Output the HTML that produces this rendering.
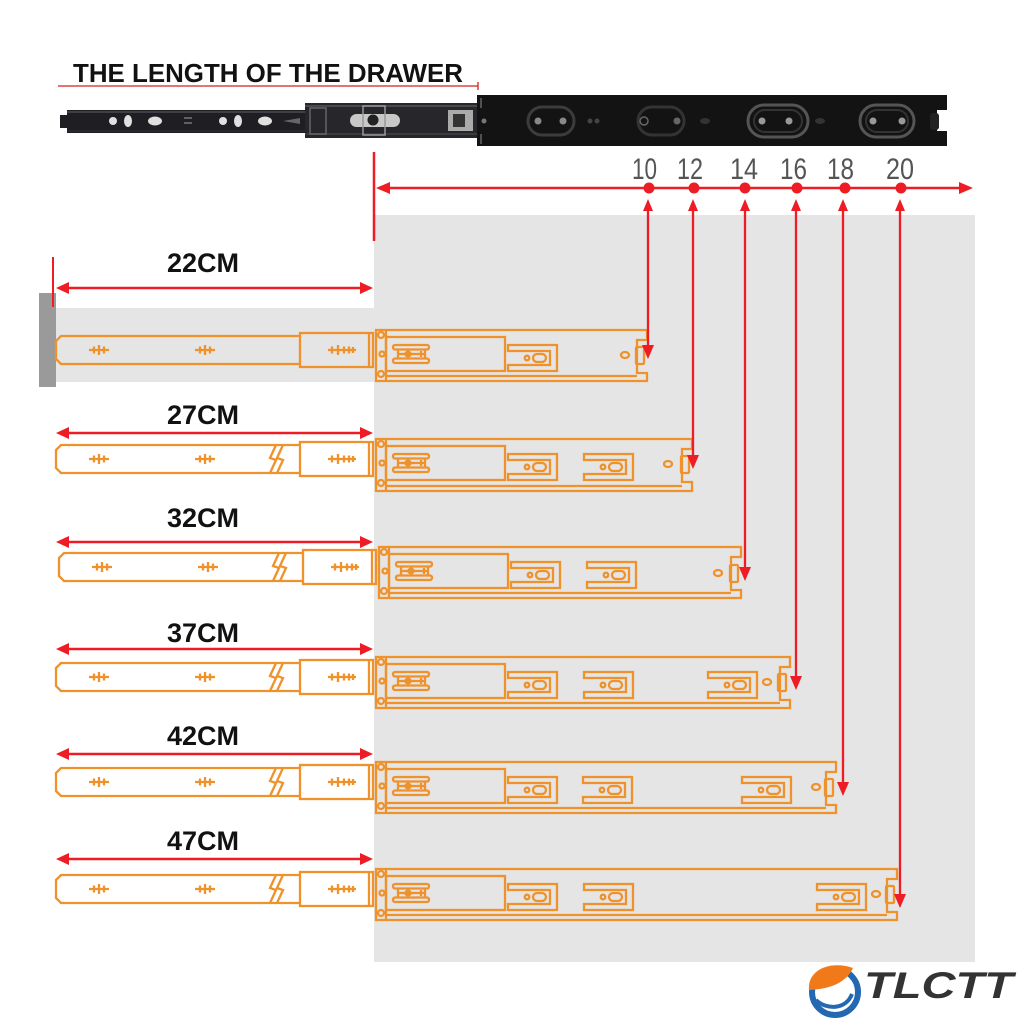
<!DOCTYPE html>
<html><head><meta charset="utf-8"><style>
html,body{margin:0;padding:0;background:#fff;}
svg{display:block;}
.o{fill:none;stroke:#f0922b;stroke-width:2.3;}
.t{font-family:"Liberation Sans",sans-serif;font-weight:bold;fill:#111;}
.n{font-family:"Liberation Sans",sans-serif;fill:#555;}
</style></head><body>
<svg width="1024" height="1024" viewBox="0 0 1024 1024" xmlns="http://www.w3.org/2000/svg">
<defs>
<g id="sym3"><path class="o" d="M-10,0 H10 M-5,-3.5 V3.5 M0,-5 V5 M5,-3.5 V3.5"/></g>
<g id="sym5"><path class="o" d="M-14,0 H14 M-10,-3.5 V3.5 M-4,-5 V5 M2,-3.5 V3.5 M7,-3.5 V3.5 M11,-3 V3"/></g>
<g id="slot"><path class="o" d="M0,0 H49 V26 H0 V20 H42 V6 H0 Z"/><circle class="o" cx="19" cy="13" r="2.3"/><rect class="o" x="25" y="9" width="13" height="8" rx="4"/></g>
<g id="plate"><rect class="o" x="393" y="15" width="36" height="4.5" rx="2"/><rect class="o" x="393" y="28.5" width="36" height="4.5" rx="2"/><path class="o" d="M398,19.5 V28.5 M425,19.5 V28.5 M398,24 H426 M421,21 V27"/><circle cx="408" cy="24" r="3.6" fill="#f0922b"/><path class="o" d="M408,19 V29 M403,24 H413"/></g>
<g id="left"><path class="o" d="M300,6 H61 L56,11 V29 L61,34 H300"/><use href="#sym3" x="99" y="20"/><use href="#sym3" x="205" y="20"/><rect class="o" x="300" y="3" width="73" height="34"/><line class="o" x1="369" y1="3" x2="369" y2="37"/><use href="#sym5" x="342" y="20"/></g>
<g id="brk"><path class="o" d="M276,6 L270,19 L276,21 L270,34 M283,6 L277,19 L283,21 L277,34"/></g>
<g id="oleft"><line class="o" x1="386" y1="0" x2="386" y2="51"/><rect class="o" x="378" y="2" width="6" height="6" rx="3"/><rect class="o" x="378" y="41" width="6" height="6" rx="3"/><circle class="o" cx="382" cy="24" r="2.5"/><rect class="o" x="386" y="7" width="119" height="34"/><use href="#plate"/><use href="#slot" x="508" y="15"/></g>
</defs>

<!-- gray backgrounds -->
<rect x="374" y="215" width="601" height="747" fill="#e5e5e5"/>
<rect x="56" y="308" width="318" height="74" fill="#e5e5e5"/>
<rect x="39" y="293" width="17" height="94" fill="#9a9a9a"/>

<!-- title -->
<text class="t" x="73" y="82" font-size="25.5" textLength="390" lengthAdjust="spacingAndGlyphs">THE LENGTH OF THE DRAWER</text>
<line x1="58" y1="86" x2="478" y2="86" stroke="#d42020" stroke-width="1.3"/>
<line x1="478" y1="82" x2="478" y2="90" stroke="#d42020" stroke-width="1.3"/>

<!-- black rail -->
<path d="M67,110 H307 V133 H67 V128 H60 V115 H67 Z" fill="#1e1e23"/>
<line x1="67" y1="112" x2="307" y2="112" stroke="#4a4a52" stroke-width="1.5"/>
<line x1="67" y1="131" x2="307" y2="131" stroke="#333" stroke-width="1"/>
<circle cx="113" cy="121" r="4" fill="#e0e0e0"/>
<ellipse cx="128" cy="121" rx="4" ry="6" fill="#e0e0e0"/>
<ellipse cx="155" cy="121" rx="7" ry="4.5" fill="#e0e0e0"/>
<path d="M184,118 H192 M184,123 H192" stroke="#777" stroke-width="1.5"/>
<circle cx="223" cy="121" r="4" fill="#e0e0e0"/>
<ellipse cx="238" cy="121" rx="4" ry="6" fill="#e0e0e0"/>
<ellipse cx="265" cy="121" rx="7" ry="4.5" fill="#e0e0e0"/>
<path d="M283,121 L300,118 V124 Z" fill="#666"/>
<rect x="305" y="103" width="173" height="35" fill="#26262b"/>
<line x1="305" y1="106" x2="478" y2="106" stroke="#555" stroke-width="1.5"/>
<line x1="305" y1="134" x2="478" y2="134" stroke="#444" stroke-width="1.5"/>
<rect x="310" y="108" width="16" height="26" fill="none" stroke="#666" stroke-width="1.5"/>
<rect x="350" y="114" width="50" height="13" rx="6.5" fill="#c8c8c8"/>
<rect x="363" y="106" width="22" height="29" fill="none" stroke="#999" stroke-width="1.5"/>
<circle cx="373" cy="120" r="5.5" fill="#222"/>
<rect x="448" y="110" width="25" height="21" fill="#aaa"/>
<rect x="453" y="114" width="12" height="13" fill="#333"/>
<path d="M477,95 H947 V110 H937 V131 H947 V146 H477 Z" fill="#131313"/>
<rect x="930" y="113" width="9" height="17" rx="3" fill="#222"/>
<path d="M481,98 V108 M481,134 V144" stroke="#666" stroke-width="1.5"/>
<circle cx="484" cy="121" r="2.5" fill="#777"/>
<rect x="528" y="107" width="46" height="28" rx="14" fill="none" stroke="#3c3c3c" stroke-width="3"/>
<circle cx="538" cy="121" r="3.5" fill="#888"/><circle cx="563" cy="121" r="3.5" fill="#888"/>
<circle cx="590" cy="121" r="2.5" fill="#444"/><circle cx="597" cy="121" r="2.5" fill="#444"/>
<rect x="638" y="107" width="46" height="28" rx="14" fill="none" stroke="#333" stroke-width="3"/>
<circle cx="644" cy="121" r="4" fill="none" stroke="#666" stroke-width="1.5"/><circle cx="677" cy="121" r="3.5" fill="#666"/>
<ellipse cx="705" cy="121" rx="5" ry="3" fill="#333"/>
<rect x="748" y="105" width="60" height="32" rx="16" fill="none" stroke="#555" stroke-width="3"/>
<rect x="754" y="110" width="48" height="22" rx="11" fill="none" stroke="#333" stroke-width="2"/>
<circle cx="762" cy="121" r="3.5" fill="#999"/><circle cx="789" cy="121" r="3.5" fill="#999"/>
<ellipse cx="820" cy="121" rx="5" ry="3" fill="#333"/>
<rect x="860" y="105" width="54" height="32" rx="16" fill="none" stroke="#555" stroke-width="3"/>
<rect x="866" y="110" width="42" height="22" rx="11" fill="none" stroke="#333" stroke-width="2"/>
<circle cx="873" cy="121" r="3.5" fill="#999"/><circle cx="902" cy="121" r="3.5" fill="#999"/>

<!-- top measuring arrow -->
<line x1="374" y1="152" x2="374" y2="241" stroke="#ee1c24" stroke-width="2.5"/>
<line x1="385" y1="188" x2="962" y2="188" stroke="#ee1c24" stroke-width="2.5"/>
<path d="M376,188 L390,182 L390,194 Z" fill="#ee1c24"/>
<path d="M973,188 L959,182 L959,194 Z" fill="#ee1c24"/>
<g class="n" font-size="30">
<text x="632" y="179" textLength="25" lengthAdjust="spacingAndGlyphs">10</text>
<text x="677" y="179" textLength="26" lengthAdjust="spacingAndGlyphs">12</text>
<text x="730" y="179" textLength="28" lengthAdjust="spacingAndGlyphs">14</text>
<text x="780" y="179" textLength="27" lengthAdjust="spacingAndGlyphs">16</text>
<text x="827" y="179" textLength="27" lengthAdjust="spacingAndGlyphs">18</text>
<text x="886" y="179" textLength="28" lengthAdjust="spacingAndGlyphs">20</text>
</g>

<!-- rows -->
<g transform="translate(0,330)">
<use href="#left"/><use href="#oleft"/>
<path class="o" stroke-width="2.6" d="M376,0 H647 V10 H637 V43 H647 V51 H376 Z"/>
<line class="o" x1="386" y1="46" x2="637" y2="46"/>
<ellipse class="o" cx="625" cy="25" rx="4" ry="3"/><rect class="o" x="636" y="17" width="8" height="17" rx="1"/>
</g>
<g transform="translate(0,439)">
<use href="#left"/><use href="#brk"/><use href="#oleft"/>
<use href="#slot" x="584" y="15"/>
<path class="o" stroke-width="2.6" d="M376,0 H692 V10 H682 V43 H692 V52 H376 Z"/>
<line class="o" x1="386" y1="47" x2="682" y2="47"/>
<ellipse class="o" cx="668" cy="25" rx="4" ry="3"/><rect class="o" x="681" y="17" width="8" height="17" rx="1"/>
</g>
<g transform="translate(3,547)">
<use href="#left"/><use href="#brk"/><use href="#oleft"/>
<use href="#slot" x="584" y="15"/>
<path class="o" stroke-width="2.6" d="M376,0 H738 V10 H728 V43 H738 V51 H376 Z"/>
<line class="o" x1="386" y1="46" x2="728" y2="46"/>
<ellipse class="o" cx="715" cy="26" rx="4" ry="3"/><rect class="o" x="727" y="18" width="8" height="17" rx="1"/>
</g>
<g transform="translate(0,657)">
<use href="#left"/><use href="#brk"/><use href="#oleft"/>
<use href="#slot" x="584" y="15"/><use href="#slot" x="708" y="15"/>
<path class="o" stroke-width="2.6" d="M376,0 H790 V10 H780 V43 H790 V51 H376 Z"/>
<line class="o" x1="386" y1="46" x2="780" y2="46"/>
<ellipse class="o" cx="767" cy="25" rx="4" ry="3"/><rect class="o" x="778" y="17" width="8" height="17" rx="1"/>
</g>
<g transform="translate(0,762)">
<use href="#left"/><use href="#brk"/><use href="#oleft"/>
<use href="#slot" x="583" y="15"/><use href="#slot" x="742" y="15"/>
<path class="o" stroke-width="2.6" d="M376,0 H836 V10 H826 V43 H836 V51 H376 Z"/>
<line class="o" x1="386" y1="46" x2="826" y2="46"/>
<ellipse class="o" cx="816" cy="25" rx="4" ry="3"/><rect class="o" x="825" y="17" width="8" height="17" rx="1"/>
</g>
<g transform="translate(0,869)">
<use href="#left"/><use href="#brk"/><use href="#oleft"/>
<use href="#slot" x="584" y="15"/><use href="#slot" x="817" y="15"/>
<path class="o" stroke-width="2.6" d="M376,0 H897 V10 H887 V43 H897 V51 H376 Z"/>
<line class="o" x1="386" y1="46" x2="887" y2="46"/>
<ellipse class="o" cx="876" cy="25" rx="4" ry="3"/><rect class="o" x="886" y="17" width="8" height="17" rx="1"/>
</g>

<!-- row labels & arrows -->
<g class="t" font-size="27" text-anchor="middle">
<text x="203" y="272">22CM</text>
<text x="203" y="424">27CM</text>
<text x="203" y="527">32CM</text>
<text x="203" y="642">37CM</text>
<text x="203" y="745">42CM</text>
<text x="203" y="850">47CM</text>
</g>
<line x1="53" y1="257" x2="53" y2="307" stroke="#ee1c24" stroke-width="2"/>
<g stroke="#ee1c24" stroke-width="2.5" fill="#ee1c24">
<line x1="66" y1="288" x2="362" y2="288"/><path stroke="none" d="M56,288 L69,282 L69,294 Z M373,288 L360,282 L360,294 Z"/>
<line x1="66" y1="433" x2="362" y2="433"/><path stroke="none" d="M56,433 L69,427 L69,439 Z M373,433 L360,427 L360,439 Z"/>
<line x1="66" y1="542" x2="362" y2="542"/><path stroke="none" d="M56,542 L69,536 L69,548 Z M373,542 L360,536 L360,548 Z"/>
<line x1="66" y1="649" x2="362" y2="649"/><path stroke="none" d="M56,649 L69,643 L69,655 Z M373,649 L360,643 L360,655 Z"/>
<line x1="66" y1="754" x2="362" y2="754"/><path stroke="none" d="M56,754 L69,748 L69,760 Z M373,754 L360,748 L360,760 Z"/>
<line x1="66" y1="859" x2="362" y2="859"/><path stroke="none" d="M56,859 L69,853 L69,865 Z M373,859 L360,853 L360,865 Z"/>
</g>

<!-- vertical arrows -->
<g stroke="#ee1c24" stroke-width="2.3" fill="#ee1c24">
<line x1="648" y1="205" x2="648" y2="348"/>
<line x1="693" y1="205" x2="693" y2="458"/>
<line x1="745" y1="205" x2="745" y2="570"/>
<line x1="796" y1="205" x2="796" y2="679"/>
<line x1="843" y1="205" x2="843" y2="785"/>
<line x1="900" y1="205" x2="900" y2="897"/>
</g>
<g fill="#ee1c24">
<circle cx="649" cy="188" r="5.5"/><circle cx="694" cy="188" r="5.5"/><circle cx="745" cy="188" r="5.5"/>
<circle cx="797" cy="188" r="5.5"/><circle cx="845" cy="188" r="5.5"/><circle cx="901" cy="188" r="5.5"/>
<path d="M648,199 L643,211 L653,211 Z M693,199 L688,211 L698,211 Z M745,199 L740,211 L750,211 Z M796,199 L791,211 L801,211 Z M843,199 L838,211 L848,211 Z M900,199 L895,211 L905,211 Z"/>
<path d="M648,359 L642,345 L654,345 Z"/>
<path d="M693,469 L687,455 L699,455 Z"/>
<path d="M745,581 L739,567 L751,567 Z"/>
<path d="M796,690 L790,676 L802,676 Z"/>
<path d="M843,796 L837,782 L849,782 Z"/>
<path d="M900,908 L894,894 L906,894 Z"/>
</g>

<!-- logo -->
<circle cx="835" cy="992" r="23" fill="#fff" stroke="#2468b2" stroke-width="6"/>
<path d="M816,1000 C826,1010 846,1010 852,994" fill="none" stroke="#2468b2" stroke-width="4"/>
<path d="M809,990 C807,970 830,960 853,968 C846,983 830,989 809,990 Z" fill="#f07a1a"/>
<text x="864" y="998" font-family="Liberation Sans, sans-serif" font-weight="bold" font-style="italic" font-size="37" fill="#333" textLength="149" lengthAdjust="spacingAndGlyphs">TLCTT</text>
</svg>
</body></html>
